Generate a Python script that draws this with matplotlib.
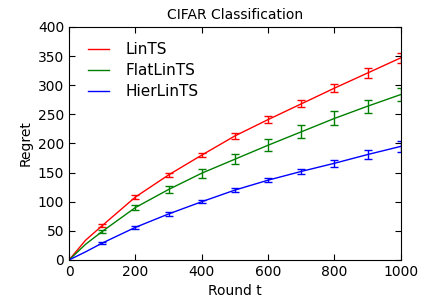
import numpy as np
import matplotlib
matplotlib.use('Agg')
import matplotlib.pyplot as plt

# values
rounds = [0, 50, 100, 200, 300, 400, 500, 600, 700, 800, 900, 1000]
lints = [0, 34, 59, 108, 146, 180, 213, 241, 268, 295, 321, 347]
flatlints = [0, 27, 49, 90, 121, 149, 173, 197, 220, 243, 264, 284]
hierlints = [0, 14, 29, 56, 79, 100, 120, 137, 152, 166, 181, 195]

err_rounds = [100, 200, 300, 400, 500, 600, 700, 800, 900, 1000]
lints_err = [3, 3, 4, 4, 5, 6, 6, 7, 8, 9]
flatlints_err = [3, 4, 6, 8, 9, 10, 11, 12, 11, 11]
hierlints_err = [2, 3, 4, 3, 3, 4, 5, 6, 7, 10]

fig = plt.figure(figsize=(4.21, 3.03), dpi=100)
ax = fig.add_axes([0.164, 0.142, 0.788, 0.769])

series = [('LinTS', lints, lints_err, 'red'),
          ('FlatLinTS', flatlints, flatlints_err, 'green'),
          ('HierLinTS', hierlints, hierlints_err, 'blue')]

for name, vals, err, col in series:
    ax.plot(rounds, vals, color=col, lw=1, label=name)
    centers = [vals[rounds.index(r)] for r in err_rounds]
    ax.errorbar(err_rounds, centers, yerr=err, fmt='none', ecolor=col,
                elinewidth=1, capsize=3, capthick=1)

ax.set_xlim(0, 1000)
ax.set_ylim(0, 400)
ax.set_xticks(np.arange(0, 1001, 200))
ax.set_yticks(np.arange(0, 401, 50))
ax.tick_params(direction='in', top=True, right=True, labelsize=10, length=4)
ax.set_xlabel('Round t', fontsize=10)
ax.set_ylabel('Regret', fontsize=10)
ax.set_title('CIFAR Classification', fontsize=10)
ax.legend(loc='upper left', bbox_to_anchor=(0.01, 1.0), frameon=False,
          fontsize=11, handlelength=1.4, handletextpad=1.1,
          labelspacing=0.4, borderaxespad=0.6)

fig.savefig('out.png', dpi=100)
